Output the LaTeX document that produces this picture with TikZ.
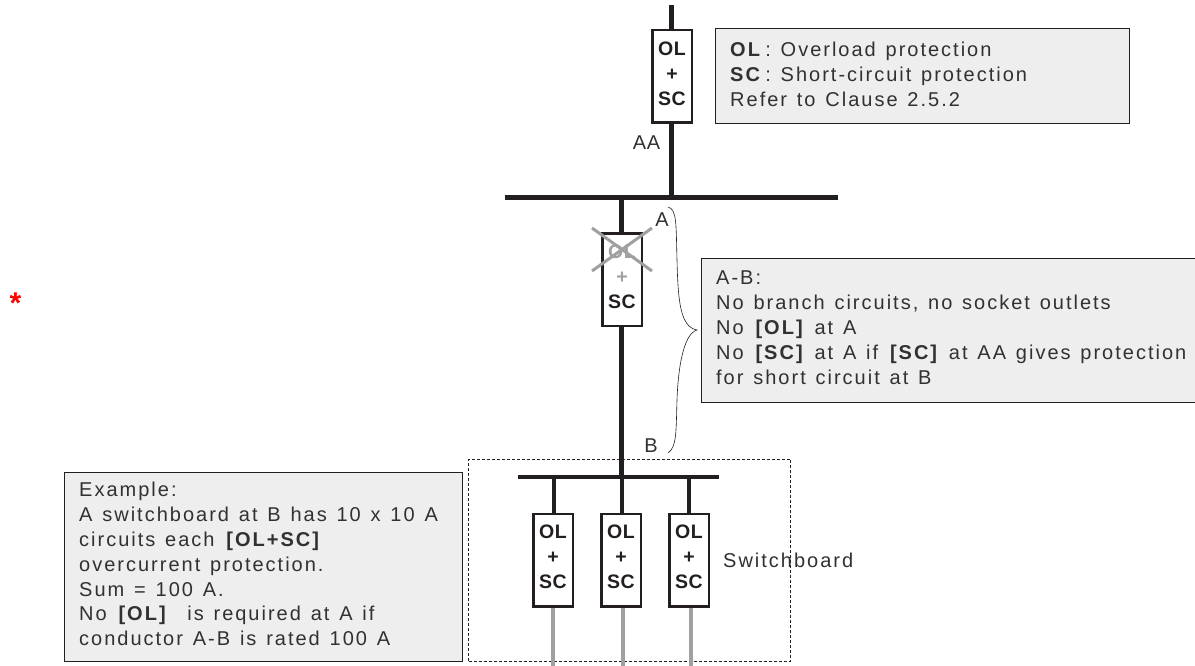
\documentclass[tikz,border=0pt]{standalone}
\usepackage{fontspec}
\usepackage{xcolor}
\setmainfont{Liberation Sans}[LetterSpace=10,WordSpace=1.3]
\usetikzlibrary{positioning}
\definecolor{wire}{RGB}{35,31,32}
\definecolor{ink}{RGB}{50,48,48}
\definecolor{note}{RGB}{238,238,238}
\definecolor{feeder}{RGB}{160,160,160}
\newcommand{\olsc}{OL\\+\\SC\\[-19pt]\mbox{}}
\tikzstyle{breaker} = [
    rectangle,
    draw=wire,
    line width=2.5pt,
    fill=white,
    minimum width=39.5pt,
    minimum height=92.5pt,
    inner sep=0pt,
    align=center,
    text=wire,
    font=\fontsize{19.5}{25}\selectfont\addfontfeature{LetterSpace=3}\bfseries
]
\tikzstyle{notebox} = [
    rectangle,
    draw=wire,
    line width=0.9pt,
    fill=note,
    anchor=north west,
    inner sep=0pt
]
\tikzstyle{notetext} = [
    anchor=west,
    inner sep=0pt,
    align=left,
    text=ink,
    font=\fontsize{20}{24.9}\selectfont
]
\tikzstyle{tag} = [
    text=ink,
    inner sep=0pt,
    font=\fontsize{20}{22}\selectfont
]
\tikzstyle{bus} = [
    draw=wire,
    line width=5pt
]
\tikzstyle{busthin} = [
    draw=wire,
    line width=4pt
]
\tikzstyle{feed} = [
    draw=feeder,
    line width=4pt
]
\begin{document}
\begin{tikzpicture}[x=1pt,y=-1pt]
    \useasboundingbox (0,0) rectangle (1195,666);
    % busbars
    \coordinate (L) at (505,197.5);
    \coordinate (R) at (838,197.5);
    % switchboard frame
    \node[draw=wire,densely dashed,line width=0.7pt,minimum width=322pt,minimum height=202pt,inner sep=0pt] (SB) at (629.5,560) {};
    % incoming and outgoing
    \coordinate (T) at (671.7,5);
    \coordinate (H) at (671.7,197.5);
    \coordinate (H2) at (621.7,197.5);
    \coordinate (J) at (621.7,477);
    \coordinate (J1) at (554,477);
    \coordinate (J3) at (689,477);
    \coordinate (BL) at (518,477);
    \coordinate (BR) at (719,477);
    \draw[bus] (T) -- (H);
    \draw[bus] (H2) -- (J);
    \draw[bus] (L) -- (R);
    \draw[busthin] (BL) -- (BR);
    \node[breaker] (MAIN) at (672,76.5) {\olsc};
    \node[breaker] (SUB) at (622,279.5) {\phantom{OL}\\\phantom{+}\\SC\\[-19pt]\mbox{}};
    \node[breaker] (C1) at (553,560) {\olsc};
    \node[breaker] (C2) at (621,560) {\olsc};
    \node[breaker] (C3) at (689,560) {\olsc};
    \draw[busthin] (J1) -- (J1 |- C1.north);
    \draw[busthin] (J3) -- (J3 |- C3.north);
    \draw[busthin] (J) -- (J |- C2.north);
    \draw[feed] (C1.south) -- (C1.south |- 0,666);
    \draw[feed] ([xshift=2pt]C2.south) -- ([xshift=2pt]C2.south |- 0,666);
    \draw[feed] ([xshift=2pt]C3.south) -- ([xshift=2pt]C3.south |- 0,666);
    % crossed out part
    \node[text=feeder,inner sep=0pt,font=\fontsize{19.5}{25}\selectfont\addfontfeature{LetterSpace=3}\bfseries,align=center] (GHOST) at (622,264) {OL\\+};
    \draw[draw=feeder,line width=3pt] (592,228) -- (652,271);
    \draw[draw=feeder,line width=3pt] (592,271) -- (652,228);
    % labels
    \node[tag,font=\fontsize{20}{22}\selectfont\addfontfeature{LetterSpace=3}] (AA) at (646.5,143) {AA};
    \node[tag] (A) at (662,220) {A};
    \node[tag] (B) at (651,446) {B};
    \node[tag,anchor=west] (SW) at (723,560) {Switchboard};
    \node[text=red,inner sep=0pt,font=\fontsize{30}{30}\selectfont\bfseries] (STAR) at (15.5,303) {*};
    % brace
    \draw[draw=wire,line width=0.6pt] (668,207) .. controls (677,209) and (676,225) .. (677,260) .. controls (678,300) and (680,327) .. (697,330) .. controls (683,334) and (678,370) .. (677,400) .. controls (676,430) and (677,447) .. (668,453);
    % notes
    \node[notebox,minimum width=414pt,minimum height=95pt] (LEG) at (715,28) {};
    \node[notetext] (LEGT) at (730,74) {\textbf{OL}\,: Overload protection\\\textbf{SC}\,: Short-circuit protection\\Refer to Clause 2.5.2};
    \node[notebox,minimum width=494pt,minimum height=144pt] (AB) at (701,258) {};
    \node[notetext] (ABT) at (716,327.5) {A-B:\\No branch circuits, no socket outlets\\No \textbf{[OL]} at A\\No \textbf{[SC]} at A if \textbf{[SC]} at AA gives protection\\for short circuit at B};
    \node[notebox,minimum width=398pt,minimum height=188.5pt] (EX) at (64,472) {};
    \node[notetext] (EXT) at (79,564) {Example:\\A switchboard at B has 10 x 10 A\\circuits each \textbf{[OL+SC]}\\overcurrent protection.\\Sum = 100 A.\\No \textbf{[OL]}~ is required at A if\\conductor A-B is rated 100 A};
\end{tikzpicture}
\end{document}
